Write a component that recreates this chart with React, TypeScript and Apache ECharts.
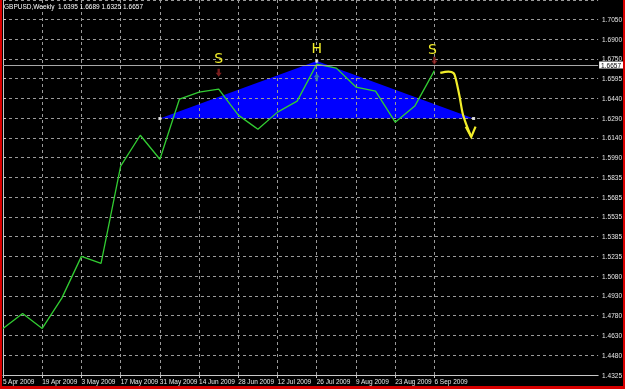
import React, { useEffect, useRef } from 'react';
import * as echarts from 'echarts';

// ---- data ----
const weekDates = [
  '5 Apr 2009', '12 Apr 2009', '19 Apr 2009', '26 Apr 2009', '3 May 2009', '10 May 2009',
  '17 May 2009', '24 May 2009', '31 May 2009', '7 Jun 2009', '14 Jun 2009', '21 Jun 2009',
  '28 Jun 2009', '5 Jul 2009', '12 Jul 2009', '19 Jul 2009', '26 Jul 2009', '2 Aug 2009',
  '9 Aug 2009', '16 Aug 2009', '23 Aug 2009', '30 Aug 2009', '6 Sep 2009',
];
const weeklyCloses = [
  1.4682, 1.4797, 1.4682, 1.4914, 1.5234, 1.5180, 1.5925, 1.6162, 1.5978, 1.6439, 1.6492, 1.6515,
  1.6316, 1.6208, 1.6339, 1.6423, 1.6707, 1.6676, 1.6531, 1.6500, 1.6262, 1.6385, 1.6657,
];
const dateTickLabels = [
  '5 Apr 2009', '19 Apr 2009', '3 May 2009', '17 May 2009', '31 May 2009', '14 Jun 2009',
  '28 Jun 2009', '12 Jul 2009', '26 Jul 2009', '9 Aug 2009', '23 Aug 2009', '6 Sep 2009',
];
const priceTickLabels = [
  '1.4325', '1.4480', '1.4630', '1.4780', '1.4930', '1.5080', '1.5235', '1.5385', '1.5535', '1.5685',
  '1.5835', '1.5990', '1.6140', '1.6290', '1.6440', '1.6595', '1.6750', '1.6900', '1.7050',
];
const titleText = 'GBPUSD,Weekly  1.6395 1.6689 1.6325 1.6657';
const lastClose = 1.6657;

// head & shoulders triangle (week index, price)
const triangleWeeks = [8, 16, 24];
const trianglePrices = [1.629, 1.673, 1.629];
// shoulder arrows
const shoulderWeeks = [11, 22];
const shoulderPrices = [1.664, 1.6732];
const headWeeks = [16];
const headPrices = [1.6607];
// hand-written letters
const letterTexts = ['S', 'H', 'S'];
const letterWeeks = [11, 16, 21.9];
const letterPrices = [1.6753, 1.683, 1.6822];
// hand-drawn arrow
const handArrowWeeks = [22.3, 22.72, 22.98, 23.08, 23.28, 23.44, 23.64, 23.88];
const handArrowPrices = [1.664, 1.665, 1.6638, 1.66, 1.6462, 1.6331, 1.6239, 1.6149];
const arrowHeadWeeks = [23.6, 23.88, 24.1];
const arrowHeadPrices = [1.6228, 1.6149, 1.6228];

const PRICE_MIN = 1.4325;
const PRICE_STEP = (1.705 - 1.4325) / 18;
const PRICE_MAX = 1.7198;
const WEEK_SPAN = 30.35;

const FONT = "'Liberation Sans Narrow', 'Liberation Sans', Arial, sans-serif";
const LINE_COLOR = '#32cd32';

export default function App() {
  const ref = useRef<HTMLDivElement>(null);
  useEffect(() => {
    if (!ref.current) return;
    const chart = echarts.init(ref.current, undefined, { renderer: 'svg' });
    const labelIdx = dateTickLabels.map((l) => weekDates.indexOf(l));
    chart.setOption({
      animation: false,
      backgroundColor: '#000000',
      title: {
        text: titleText,
        left: 4,
        top: 3,
        padding: 0,
        textStyle: { color: '#ffffff', fontSize: 6.5, fontWeight: 'normal', fontFamily: FONT },
      },
      grid: { left: 3, right: 25, top: 0, bottom: 14 },
      xAxis: {
        type: 'value',
        min: 0,
        max: WEEK_SPAN,
        interval: 1,
        axisLine: { show: true, lineStyle: { color: '#c8c8c8', width: 1 } },
        axisTick: { show: true, customValues: labelIdx, length: 3, lineStyle: { color: '#c8c8c8' } },
        axisLabel: {
          customValues: labelIdx,
          formatter: (v: number) => weekDates[Math.round(v)] ?? '',
          align: 'left',
          color: '#e6e6e6',
          fontSize: 6.5,
          fontFamily: FONT,
          margin: 3,
        },
        splitLine: { show: true, lineStyle: { color: '#9a9a9a', type: [3, 3], width: 1 } },
      },
      yAxis: {
        type: 'value',
        position: 'right',
        min: PRICE_MIN,
        max: PRICE_MAX,
        interval: PRICE_STEP,
        axisLine: { show: true, lineStyle: { color: '#c8c8c8', width: 1 } },
        axisTick: { show: true, length: 3, lineStyle: { color: '#c8c8c8' } },
        axisLabel: {
          formatter: (v: number) => priceTickLabels[Math.round((v - PRICE_MIN) / PRICE_STEP)] ?? '',
          align: 'left',
          color: '#e6e6e6',
          fontSize: 6.5,
          fontFamily: FONT,
          margin: 4,
          showMaxLabel: false,
        },
        splitLine: { show: true, lineStyle: { color: '#9a9a9a', type: [3, 3], width: 1 } },
      },
      series: [
        {
          type: 'custom',
          z: -1,
          silent: true,
          clip: false,
          data: [[triangleWeeks[0], trianglePrices[0]]],
          renderItem: (_p: any, api: any) => ({
            type: 'polygon',
            shape: { points: triangleWeeks.map((w, i) => api.coord([w, trianglePrices[i]])) },
            style: { fill: '#0000ff' },
          }),
        },
        {
          type: 'line',
          data: weeklyCloses.map((c, i) => [i, c]),
          showSymbol: false,
          clip: false,
          lineStyle: { color: LINE_COLOR, width: 1.3 },
          itemStyle: { color: LINE_COLOR },
          z: 3,
          markLine: {
            silent: true,
            symbol: 'none',
            data: [{ yAxis: lastClose }],
            lineStyle: { color: '#a8a8a8', type: 'solid', width: 1 },
            label: {
              position: 'end',
              formatter: lastClose.toFixed(4),
              backgroundColor: '#ffffff',
              color: '#000000',
              padding: [0, 2],
              fontSize: 6.5,
              fontFamily: FONT,
              distance: 1,
            },
          },
        },
        {
          type: 'scatter',
          data: triangleWeeks.map((w, i) => [w, trianglePrices[i]]),
          symbol: 'rect',
          symbolSize: 3,
          itemStyle: { color: '#ffffff' },
          z: 4,
          silent: true,
        },
        {
          type: 'scatter',
          data: shoulderWeeks.map((w, i) => [w, shoulderPrices[i]]),
          symbol: 'path://M3,0H7V5H10L5,10L0,5H3Z',
          symbolSize: [6, 8],
          itemStyle: { color: '#9a2424' },
          z: 4,
          silent: true,
        },
        {
          type: 'scatter',
          data: headWeeks.map((w, i) => [w, headPrices[i]]),
          symbol: 'path://M5,0L10,5H7V10H3V5H0Z',
          symbolSize: [6, 8],
          itemStyle: { color: '#3f8fa0' },
          z: 4,
          silent: true,
        },
        {
          type: 'custom',
          z: 6,
          silent: true,
          clip: false,
          data: letterWeeks.map((w, i) => [w, letterPrices[i], i]),
          renderItem: (_p: any, api: any) => {
            const pt = api.coord([api.value(0), api.value(1)]);
            return {
              type: 'text',
              x: pt[0],
              y: pt[1],
              style: {
                text: letterTexts[api.value(2)],
                fill: '#f2ee2a',
                fontSize: 14,
                fontWeight: 'normal',
                fontFamily: "'DejaVu Sans', sans-serif",
                align: 'center',
                verticalAlign: 'middle',
              },
            };
          },
        },
        {
          type: 'custom',
          z: 6,
          silent: true,
          clip: false,
          data: [[handArrowWeeks[0], handArrowPrices[0]]],
          renderItem: (_p: any, api: any) => ({
            type: 'group',
            children: [
              {
                type: 'polyline',
                shape: {
                  points: handArrowWeeks.map((w, i) => api.coord([w, handArrowPrices[i]])),
                  smooth: 0.3,
                },
                style: { stroke: '#f2ee2a', lineWidth: 2.2, fill: 'none' },
              },
              {
                type: 'polyline',
                shape: { points: arrowHeadWeeks.map((w, i) => api.coord([w, arrowHeadPrices[i]])) },
                style: { stroke: '#f2ee2a', lineWidth: 2.2, fill: 'none' },
              },
            ],
          }),
        },
      ],
      graphic: [
        { type: 'rect', shape: { x: 0, y: 0, width: 2, height: 389 }, style: { fill: '#d80000' }, z: 100 },
        { type: 'rect', shape: { x: 623, y: 0, width: 2, height: 389 }, style: { fill: '#d80000' }, z: 100 },
        { type: 'rect', shape: { x: 0, y: 386, width: 625, height: 3 }, style: { fill: '#d80000' }, z: 100 },
      ],
    });
    return () => chart.dispose();
  }, []);
  return (
    <>
      <style>{`#chart svg path[stroke="${LINE_COLOR}"], #chart svg path[stroke="rgb(50,205,50)"] { mix-blend-mode: screen; }`}</style>
      <div id="chart" ref={ref} style={{ position: 'fixed', left: 0, top: 0, width: 625, height: 389 }} />
    </>
  );
}
